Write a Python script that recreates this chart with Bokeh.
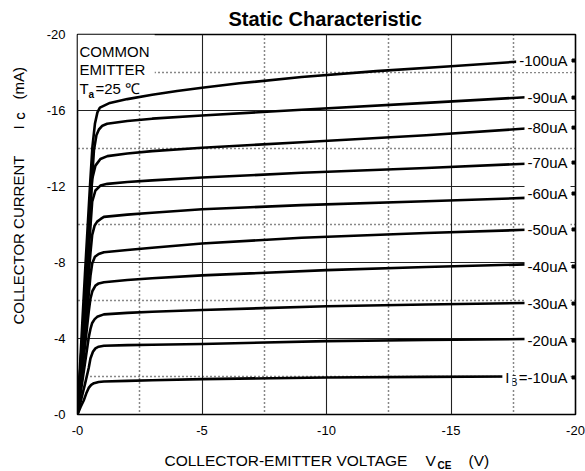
import math
from bokeh.plotting import figure
from bokeh.layouts import column, row
from bokeh.models import Range1d, FixedTicker, Label, BoxAnnotation
from bokeh.embed import file_html
from bokeh.resources import INLINE

# ---------------- data ----------------
x_ticks = [0, -5, -10, -15, -20]
x_tick_labels = ["-0", "-5", "-10", "-15", "-20"]
x_minor = [-2.5, -7.5, -12.5, -17.5]
y_ticks = [0, -4, -8, -12, -16, -20]
y_tick_labels = ["-0", "-4", "-8", "-12", "-16", "-20"]
y_minor = [-2, -6, -10, -14, -18]

vce_10 = [0, -0.12, -0.25, -0.35, -0.45, -0.55, -0.66, -0.85, -1.06, -2, -3, -5, -10, -14, -18]
ic_10 = [0, -0.38, -0.74, -1.1, -1.4, -1.56, -1.65, -1.71, -1.74, -1.77, -1.8, -1.86, -1.95, -1.98, -2.0]

vce_20 = [0, -0.15, -0.3, -0.45, -0.52, -0.62, -0.72, -0.85, -1.06, -2, -3, -5, -10, -14, -18]
ic_20 = [0, -0.8, -1.6, -2.45, -2.95, -3.3, -3.48, -3.57, -3.62, -3.65, -3.67, -3.71, -3.86, -3.92, -3.97]

vce_30 = [0, -0.15, -0.3, -0.45, -0.52, -0.59, -0.69, -0.79, -1.06, -2, -3, -5, -10, -14, -18]
ic_30 = [0, -1.35, -2.7, -4.05, -4.5, -4.82, -5.02, -5.14, -5.27, -5.35, -5.41, -5.5, -5.7, -5.79, -5.87]

vce_40 = [0, -0.15, -0.3, -0.45, -0.52, -0.6, -0.72, -0.85, -1.06, -2, -3, -5, -10, -14, -18]
ic_40 = [0, -1.8, -3.6, -5.4, -6.1, -6.5, -6.78, -6.9, -6.96, -7.08, -7.17, -7.32, -7.6, -7.76, -7.9]

vce_50 = [0, -0.15, -0.3, -0.45, -0.52, -0.59, -0.7, -0.85, -1.06, -2, -3, -5, -9, -14, -18]
ic_50 = [0, -2.1, -4.2, -6.3, -7.3, -7.95, -8.3, -8.45, -8.54, -8.66, -8.78, -9.0, -9.3, -9.55, -9.72]

vce_60 = [0, -0.15, -0.3, -0.45, -0.52, -0.59, -0.69, -0.79, -0.92, -1.06, -2, -3, -5, -9, -14, -18]
ic_60 = [0, -2.45, -4.9, -7.4, -8.5, -9.45, -9.95, -10.15, -10.28, -10.4, -10.52, -10.62, -10.8, -11.02, -11.22, -11.4]

vce_70 = [0, -0.15, -0.3, -0.45, -0.52, -0.59, -0.72, -0.92, -1.2, -2, -3, -5, -9, -14, -18]
ic_70 = [0, -2.85, -5.7, -8.55, -9.9, -11.2, -11.79, -12.05, -12.14, -12.24, -12.32, -12.47, -12.72, -12.97, -13.2]

vce_80 = [0, -0.15, -0.3, -0.45, -0.52, -0.59, -0.72, -0.92, -1.2, -2, -3, -5, -9, -14, -18]
ic_80 = [0, -3.2, -6.4, -9.5, -11.0, -12.4, -13.1, -13.45, -13.6, -13.74, -13.86, -14.04, -14.33, -14.7, -15.05]

vce_90 = [0, -0.15, -0.3, -0.45, -0.55, -0.66, -0.76, -0.86, -1.0, -1.19, -2, -3, -5, -9, -14, -18]
ic_90 = [0, -3.2, -6.3, -9.5, -11.7, -13.9, -14.7, -15.0, -15.2, -15.3, -15.45, -15.57, -15.74, -16.04, -16.4, -16.7]

vce_100 = [0, -0.1, -0.2, -0.3, -0.4, -0.5, -0.6, -0.7, -0.8, -0.9, -1.3, -2, -3, -4, -5, -6.5, -9, -12, -15, -18]
ic_100 = [0, -2.5, -5.0, -7.4, -9.7, -12.0, -14.1, -15.3, -15.9, -16.15, -16.4, -16.6, -16.83, -17.03, -17.2, -17.43, -17.76, -18.07, -18.33, -18.6]

curve_labels = ["-100uA", "-90uA", "-80uA", "-70uA", "-60uA", "-50uA", "-40uA", "-30uA", "-20uA", "=-10uA"]
curve_label_y = [-18.63, -16.68, -15.1, -13.26, -11.63, -9.74, -7.79, -5.84, -3.89, -1.95]

curves = [(vce_10, ic_10), (vce_20, ic_20), (vce_30, ic_30), (vce_40, ic_40), (vce_50, ic_50),
          (vce_60, ic_60), (vce_70, ic_70), (vce_80, ic_80), (vce_90, ic_90), (vce_100, ic_100)]

FONT = "Liberation Sans"
STRIP_W = 40

# ---------------- main figure ----------------
p = figure(width=585 - STRIP_W, height=442, x_range=Range1d(0, -20), y_range=Range1d(0, -20),
           output_backend="svg", toolbar_location=None,
           min_border_left=77 - STRIP_W, min_border_right=10, min_border_top=34, min_border_bottom=28)
p.background_fill_color = "white"
p.border_fill_color = "white"
p.outline_line_color = "black"
p.outline_line_width = 1.6

p.title.text = "Static Characteristic"
p.title.text_font = FONT
p.title.text_font_size = "20px"
p.title.text_font_style = "bold"
p.title.text_color = "black"
p.title.align = "left"
p.title.offset = 151
p.title.standoff = 9

p.xaxis.ticker = FixedTicker(ticks=x_ticks, minor_ticks=x_minor)
p.yaxis.ticker = FixedTicker(ticks=y_ticks, minor_ticks=y_minor)
p.xaxis.major_label_overrides = {t: l for t, l in zip(x_ticks, x_tick_labels)}
p.yaxis.major_label_overrides = {t: l for t, l in zip(y_ticks, y_tick_labels)}
for ax in (p.xaxis, p.yaxis):
    ax.axis_line_color = None
    ax.major_tick_line_color = None
    ax.minor_tick_line_color = None
    ax.major_tick_out = 0
    ax.major_tick_in = 0
    ax.major_label_text_font = FONT
    ax.major_label_text_font_size = "13px"
    ax.major_label_text_color = "black"
p.xaxis.major_label_standoff = 7
p.yaxis.major_label_standoff = 8

for g in (p.xgrid, p.ygrid):
    g.grid_line_color = "#222222"
    g.grid_line_width = 1.1
    g.minor_grid_line_color = "#111111"
    g.minor_grid_line_width = 1.5
    g.minor_grid_line_dash = "1 3"

# white box behind the "COMMON EMITTER" note
p.add_layout(BoxAnnotation(left=0, right=-3.1, bottom=-16.55, top=-20, fill_color="white",
                           fill_alpha=1.0, line_color=None, level="underlay"))

for vx, iy in curves:
    p.line(vx, iy, line_color="black", line_width=2.6, line_join="round", line_cap="round")

# small marks on the right border at the label levels
p.scatter([-19.92] * len(curve_label_y), curve_label_y, marker="square", size=3,
          fill_color="black", line_color="black")

# curve labels
for txt, yv in zip(curve_labels, curve_label_y):
    p.add_layout(Label(x=-19.8, y=yv, text=txt, text_align="right", text_baseline="middle",
                       text_font=FONT, text_font_size="15px", text_color="black",
                       background_fill_color="white", background_fill_alpha=1.0, padding=3))
p.add_layout(Label(x=-19.8, y=curve_label_y[-1], x_offset=-52, y_offset=-5, text="B",
                   text_align="right", text_baseline="middle", text_font=FONT,
                   text_font_size="10px", text_color="black",
                   background_fill_color="white", background_fill_alpha=1.0, padding=1))
p.add_layout(Label(x=-19.8, y=curve_label_y[-1], x_offset=-58, text="I",
                   text_align="right", text_baseline="middle", text_font=FONT,
                   text_font_size="15px", text_color="black",
                   background_fill_color="white", background_fill_alpha=1.0, padding=3))


def slabel(fig, x, y, text, size="15px", style="normal", angle=0.0, align="left",
           baseline="alphabetic"):
    fig.add_layout(Label(x=x, y=y, x_units="screen", y_units="screen", text=text,
                         text_font=FONT, text_font_size=size, text_font_style=style,
                         text_color="black", angle=angle, text_align=align,
                         text_baseline=baseline))


# note inside the plot
slabel(p, 2, 363, "COMMON")
slabel(p, 2, 345, "EMITTER")
slabel(p, 2, 326, "T")
slabel(p, 11, 320, "a", size="10px", style="bold")
slabel(p, 18, 326, "=25 \u2103")


def text_strip(w, h):
    f = figure(width=w, height=h, x_range=Range1d(0, w), y_range=Range1d(0, h),
               output_backend="svg", toolbar_location=None, min_border=0,
               x_axis_location=None, y_axis_location=None)
    f.grid.visible = False
    f.outline_line_color = None
    f.background_fill_color = "white"
    f.border_fill_color = "white"
    return f


# y axis label strip (left)
py = text_strip(STRIP_W, 442)
slabel(py, 18, 90, "COLLECTOR CURRENT", angle=math.pi / 2, baseline="middle")
slabel(py, 18, 285, "I", angle=math.pi / 2, baseline="middle")
slabel(py, 21, 295, "C", size="10px", style="bold", angle=math.pi / 2, baseline="middle")
slabel(py, 18, 315, "(mA)", angle=math.pi / 2, baseline="middle")

# x axis label strip (bottom)
px = text_strip(585, 29)
slabel(px, 164, 11, "COLLECTOR-EMITTER VOLTAGE", size="15.5px")
slabel(px, 425, 11, "V", size="15.5px")
slabel(px, 437, 6, "CE", size="10px", style="bold")
slabel(px, 468, 11, "(V)", size="15.5px")

layout = column(row(py, p), px)
open("out.html", "w").write(file_html(layout, INLINE))
